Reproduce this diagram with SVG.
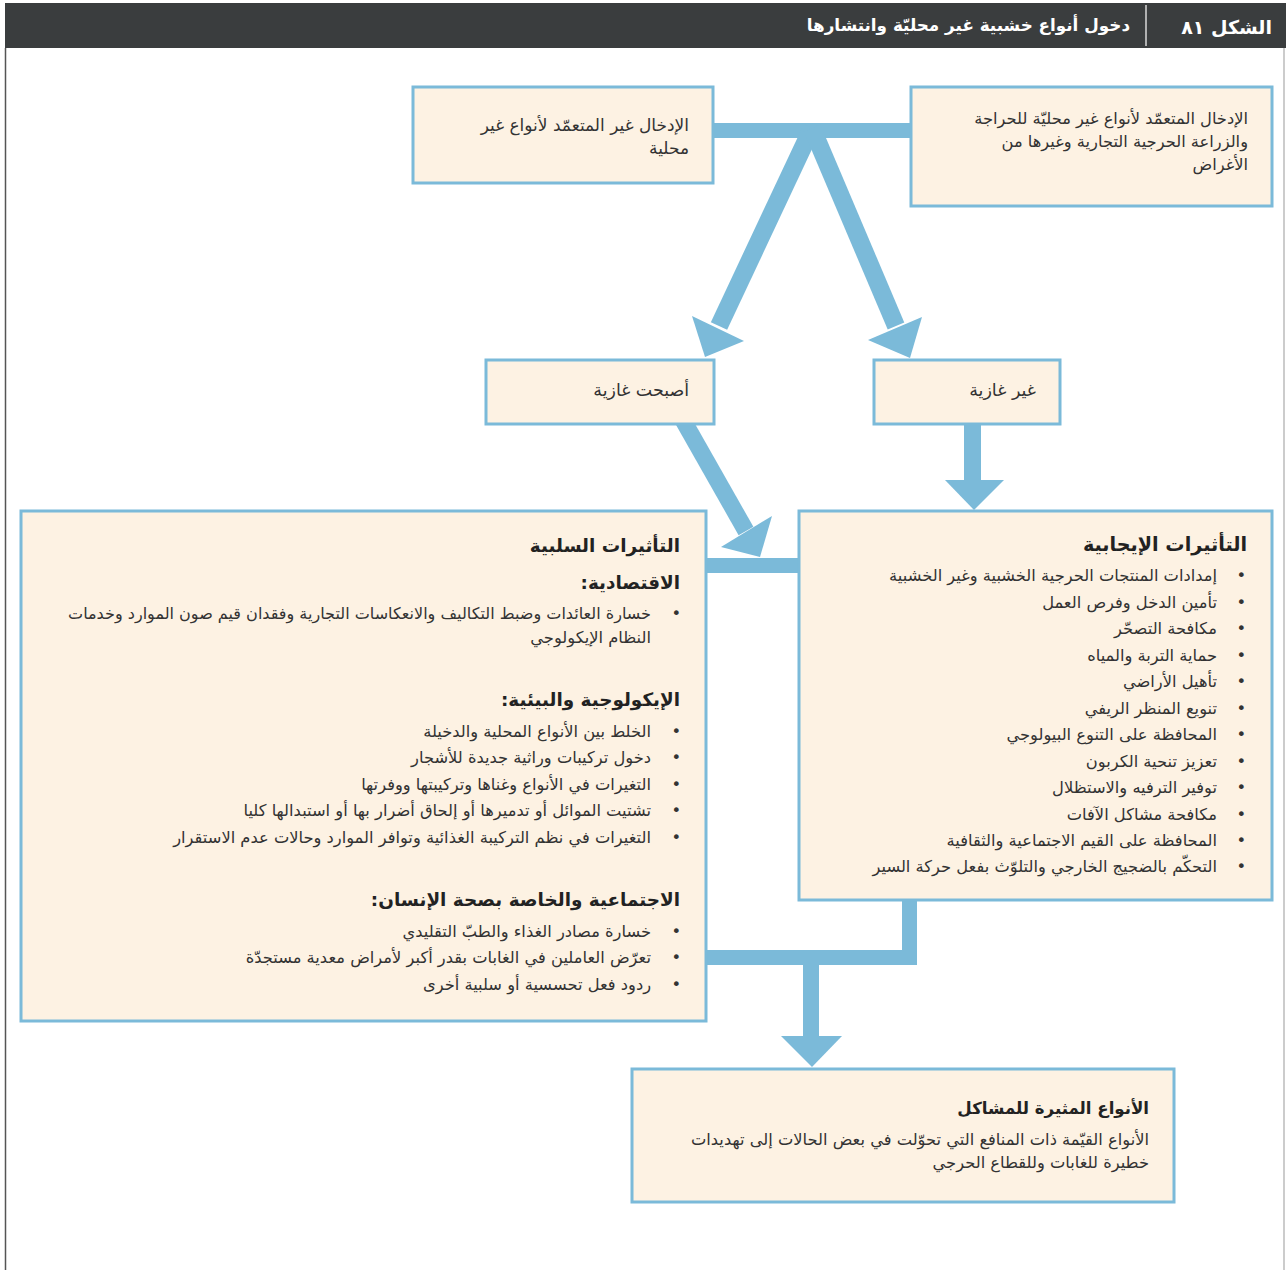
<svg xmlns="http://www.w3.org/2000/svg" width="1286" height="1270" viewBox="0 0 1286 1270">
<style>
.box{fill:#fdf2e3;stroke:#7bbad9;stroke-width:3}
.t{font-family:"DejaVu Sans",sans-serif;font-size:16.3px;fill:#333;direction:rtl;text-anchor:start}
.m{font-size:17px}
.b{font-weight:bold;font-size:18.4px;fill:#222}
.hd{font-family:"DejaVu Sans",sans-serif;font-weight:bold;fill:#fff;direction:rtl;text-anchor:start}
.c{fill:#7bbad9}
.cl{stroke:#7bbad9;fill:none}
</style>
<rect x="0" y="0" width="1286" height="1270" fill="#fff"/>
<g id="frame">
<rect x="5" y="3" width="1281" height="45" fill="#3a3d3e"/>
<line x1="1146" y1="5" x2="1146" y2="46" stroke="#d8d8d8" stroke-width="1.5"/>
<line x1="5.5" y1="48" x2="5.5" y2="1270" stroke="#555" stroke-width="1.5"/>
<line x1="1284" y1="48" x2="1284" y2="1270" stroke="#999" stroke-width="1"/>
<text class="hd" x="1272" y="34" style="font-size:19px">الشكل ٨١</text>
<text class="hd" x="1130" y="31" style="font-size:16.8px">دخول أنواع خشبية غير محليّة وانتشارها</text>
</g>
<g id="connectors">
<rect class="c" x="713" y="123" width="198" height="15"/>
<line class="cl" x1="812" y1="128" x2="719" y2="326" stroke-width="18"/>
<polygon class="c" points="692,316 744,341 705,357"/>
<line class="cl" x1="812" y1="128" x2="896" y2="326" stroke-width="18"/>
<polygon class="c" points="922,317 868,340 910,358"/>
<rect class="c" x="964" y="424" width="17" height="57"/>
<polygon class="c" points="945,480 1004,480 974,510"/>
<line class="cl" x1="683" y1="420" x2="746" y2="531" stroke-width="17"/>
<polygon class="c" points="772,516 721,547 760,557"/>
<rect class="c" x="705" y="558" width="94" height="15"/>
<rect class="c" x="902" y="898" width="15" height="67"/>
<rect class="c" x="705" y="950" width="212" height="15"/>
<rect class="c" x="803" y="963" width="16" height="74"/>
<polygon class="c" points="781,1036 842,1036 812,1067"/>
</g>
<g id="n-unintentional">
<rect class="box" x="413" y="87" width="300" height="96"/>
<text class="t m" x="689" y="131">الإدخال غير المتعمّد لأنواع غير</text>
<text class="t m" x="689" y="154">محلية</text>
</g>
<g id="n-intentional">
<rect class="box" x="911" y="87" width="361" height="119"/>
<text class="t" x="1248" y="124">الإدخال المتعمّد لأنواع غير محليّة للحراجة</text>
<text class="t" x="1248" y="147">والزراعة الحرجية التجارية وغيرها من</text>
<text class="t" x="1248" y="170">الأغراض</text>
</g>
<g id="n-invasive">
<rect class="box" x="486" y="360" width="228" height="64"/>
<text class="t" x="689" y="396" style="font-size:17.4px">أصبحت غازية</text>
</g>
<g id="n-noninvasive">
<rect class="box" x="874" y="360" width="186" height="64"/>
<text class="t" x="1036" y="396" style="font-size:17.5px">غير غازية</text>
</g>
<g id="n-negative">
<rect class="box" x="21" y="511" width="685" height="510"/>
<text class="t b" x="680" y="552">التأثيرات السلبية</text>
<text class="t b" x="680" y="589">الاقتصادية:</text>
<text class="t" x="681" y="619">•</text>
<text class="t" x="651" y="619" style="font-size:16.05px">خسارة العائدات وضبط التكاليف والانعكاسات التجارية وفقدان قيم صون الموارد وخدمات</text>
<text class="t" x="651" y="643">النظام الإيكولوجي</text>
<text class="t b" x="680" y="706">الإيكولوجية والبيئية:</text>
<text class="t" x="681" y="737">•</text>
<text class="t" x="651" y="737">الخلط بين الأنواع المحلية والدخيلة</text>
<text class="t" x="681" y="763">•</text>
<text class="t" x="651" y="763">دخول تركيبات وراثية جديدة للأشجار</text>
<text class="t" x="681" y="790">•</text>
<text class="t" x="651" y="790">التغيرات في الأنواع وغناها وتركيبتها ووفرتها</text>
<text class="t" x="681" y="816">•</text>
<text class="t" x="651" y="816">تشتيت الموائل أو تدميرها أو إلحاق أضرار بها أو استبدالها كليا</text>
<text class="t" x="681" y="843">•</text>
<text class="t" x="651" y="843">التغيرات في نظم التركيبة الغذائية وتوافر الموارد وحالات عدم الاستقرار</text>
<text class="t b" x="680" y="906">الاجتماعية والخاصة بصحة الإنسان:</text>
<text class="t" x="681" y="937">•</text>
<text class="t" x="651" y="937">خسارة مصادر الغذاء والطبّ التقليدي</text>
<text class="t" x="681" y="963">•</text>
<text class="t" x="651" y="963">تعرّض العاملين في الغابات بقدر أكبر لأمراض معدية مستجدّة</text>
<text class="t" x="681" y="990">•</text>
<text class="t" x="651" y="990">ردود فعل تحسسية أو سلبية أخرى</text>
</g>
<g id="n-positive">
<rect class="box" x="799" y="511" width="473" height="389"/>
<text class="t b" x="1247" y="551" style="font-size:19.2px">التأثيرات الإيجابية</text>
<text class="t" x="1246" y="581">•</text>
<text class="t" x="1217" y="581">إمدادات المنتجات الحرجية الخشبية وغير الخشبية</text>
<text class="t" x="1246" y="608">•</text>
<text class="t" x="1217" y="608">تأمين الدخل وفرص العمل</text>
<text class="t" x="1246" y="634">•</text>
<text class="t" x="1217" y="634">مكافحة التصحّر</text>
<text class="t" x="1246" y="661">•</text>
<text class="t" x="1217" y="661">حماية التربة والمياه</text>
<text class="t" x="1246" y="687">•</text>
<text class="t" x="1217" y="687">تأهيل الأراضي</text>
<text class="t" x="1246" y="714">•</text>
<text class="t" x="1217" y="714">تنويع المنظر الريفي</text>
<text class="t" x="1246" y="740">•</text>
<text class="t" x="1217" y="740">المحافظة على التنوع البيولوجي</text>
<text class="t" x="1246" y="767">•</text>
<text class="t" x="1217" y="767">تعزيز تنحية الكربون</text>
<text class="t" x="1246" y="793">•</text>
<text class="t" x="1217" y="793">توفير الترفيه والاستظلال</text>
<text class="t" x="1246" y="820">•</text>
<text class="t" x="1217" y="820">مكافحة مشاكل الآفات</text>
<text class="t" x="1246" y="846">•</text>
<text class="t" x="1217" y="846">المحافظة على القيم الاجتماعية والثقافية</text>
<text class="t" x="1246" y="872">•</text>
<text class="t" x="1217" y="872">التحكّم بالضجيج الخارجي والتلوّث بفعل حركة السير</text>
</g>
<g id="n-problem">
<rect class="box" x="632" y="1069" width="542" height="133"/>
<text class="t b" x="1149" y="1114" style="font-size:16.6px">الأنواع المثيرة للمشاكل</text>
<text class="t" x="1149" y="1145">الأنواع القيّمة ذات المنافع التي تحوّلت في بعض الحالات إلى تهديدات</text>
<text class="t" x="1149" y="1168">خطيرة للغابات وللقطاع الحرجي</text>
</g>
</svg>
